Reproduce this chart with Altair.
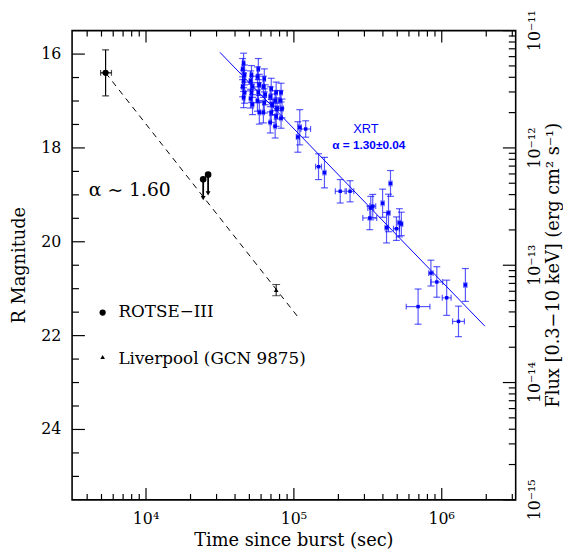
import altair as alt
import pandas as pd
import numpy as np

# ---------------- data ----------------
# XRT light curve (time [s], flux [erg cm^-2 s^-1], flux error [dex], time error [dex])
xrt_time = [45700, 45000, 46400, 45700, 45000, 46400, 45700,
            51700, 50900, 52500, 51700, 50900, 52500,
            57500, 56700, 58400, 57500, 56700, 58400,
            63100, 62200, 64100, 63100, 62200,
            70300, 69200, 71400, 70300, 69200,
            75900, 74700, 77000, 75900, 74700,
            81900, 80700, 83200, 81900,
            109600, 106300, 120200, 146800, 161000, 205800, 239900,
            331100, 341500, 326000, 398100, 436500, 450200, 423300,
            493600, 516900, 532900, 844700, 926100, 1080000, 1445000,
            691800, 1298000]
xrt_flux = [5.28e-12, 4.70e-12, 4.19e-12, 3.73e-12, 3.32e-12, 2.96e-12, 2.68e-12,
            4.19e-12, 3.73e-12, 3.32e-12, 2.96e-12, 2.63e-12, 2.34e-12,
            4.70e-12, 4.03e-12, 3.45e-12, 2.96e-12, 2.53e-12, 2.01e-12,
            3.88e-12, 3.32e-12, 2.84e-12, 2.44e-12, 2.01e-12,
            3.19e-12, 2.73e-12, 2.34e-12, 2.01e-12, 1.65e-12,
            2.96e-12, 2.53e-12, 2.17e-12, 1.86e-12, 1.53e-12,
            2.96e-12, 2.53e-12, 2.17e-12, 1.79e-12,
            1.50e-12, 1.24e-12, 1.45e-12, 6.92e-13, 6.16e-13, 4.27e-13, 4.27e-13,
            3.07e-13, 3.19e-13, 2.53e-13, 3.38e-13, 2.79e-13, 4.98e-13, 2.09e-13,
            2.05e-13, 2.30e-13, 2.25e-13, 8.57e-14, 7.20e-14, 5.28e-14, 6.79e-14,
            4.44e-14, 3.32e-14]
xrt_ferr = [0.085, 0.09, 0.085, 0.09, 0.085, 0.09, 0.085,
            0.08, 0.085, 0.09, 0.085, 0.08, 0.085,
            0.09, 0.085, 0.09, 0.085, 0.09, 0.1,
            0.085, 0.09, 0.085, 0.09, 0.09,
            0.09, 0.085, 0.09, 0.085, 0.09,
            0.09, 0.085, 0.09, 0.085, 0.1,
            0.08, 0.085, 0.08, 0.085,
            0.15, 0.13, 0.07, 0.11, 0.13, 0.10, 0.09,
            0.10, 0.10, 0.10, 0.12, 0.16, 0.11, 0.13,
            0.10, 0.12, 0.10, 0.11, 0.13, 0.15, 0.14,
            0.15, 0.13]
xrt_terr = [0.008] * 38 + [0.01, 0.01, 0.033, 0.02, 0.01, 0.033, 0.025,
                           0.02, 0.02, 0.047, 0.01, 0.01, 0.01, 0.01,
                           0.02, 0.01, 0.01, 0.015, 0.04, 0.03, 0.01,
                           0.08, 0.04]

# XRT power-law fit (alpha = 1.30) end points
fit_time = [31600, 1960000]
fit_flux = [6.53e-12, 3.02e-14]

# ROTSE-III detection
rotse_time = [5330]
rotse_mag = [16.40]
rotse_mag_err = [0.49]
rotse_time_lo = [4930]
rotse_time_hi = [5840]

# ROTSE-III upper limits
ul_time = [24360, 26300]
ul_mag = [18.67, 18.57]
ul_end = [19.07, 18.97]

# Liverpool (GCN 9875)
lt_time = [75900]
lt_mag = [21.03]
lt_mag_err = [0.12]

# optical decay (alpha ~ 1.60) end points
opt_time = [5330, 106400]
opt_mag = [16.40, 21.60]

# axis ticks and tick labels
x_major = [1e4, 1e5, 1e6]
x_major_lab = ["10⁴", "10⁵", "10⁶"]
x_minor = [4000, 5000, 6000, 7000, 8000, 9000,
           20000, 30000, 40000, 50000, 60000, 70000, 80000, 90000,
           200000, 300000, 400000, 500000, 600000, 700000, 800000, 900000,
           2000000, 3000000]
mag_major = [16, 18, 20, 22, 24]
mag_major_lab = ["16", "18", "20", "22", "24"]
mag_minor = [16.5, 17, 17.5, 18.5, 19, 19.5, 20.5, 21, 21.5, 22.5, 23, 23.5,
             24.5, 25]
flux_major = [1e-15, 1e-14, 1e-13, 1e-12, 1e-11]
flux_major_lab = ["10⁻¹⁵", "10⁻¹⁴", "10⁻¹³", "10⁻¹²", "10⁻¹¹"]
flux_minor = [m * d for d in [1e-15, 1e-14, 1e-13, 1e-12] for m in range(2, 10)]

# ---------------- frames ----------------
W, H = 450, 476
BLUE = "#0000ff"
SERIF = "DejaVu Serif"
SANS = "Liberation Sans"

xrt = pd.DataFrame({"t": xrt_time, "F": xrt_flux, "e": xrt_ferr, "te": xrt_terr})
xrt["F_lo"] = xrt["F"] * 10 ** (-xrt["e"])
xrt["F_hi"] = xrt["F"] * 10 ** (xrt["e"])
xrt["t_lo"] = xrt["t"] * 10 ** (-xrt["te"])
xrt["t_hi"] = xrt["t"] * 10 ** (xrt["te"])
fit = pd.DataFrame({"t": fit_time, "F": fit_flux})

rotse = pd.DataFrame({"t": rotse_time, "m": rotse_mag,
                      "m_lo": np.array(rotse_mag) - np.array(rotse_mag_err),
                      "m_hi": np.array(rotse_mag) + np.array(rotse_mag_err),
                      "t_lo": rotse_time_lo, "t_hi": rotse_time_hi})
ul = pd.DataFrame({"t": ul_time, "m": ul_mag, "m_end": ul_end})
lt = pd.DataFrame({"t": lt_time, "m": lt_mag,
                   "m_lo": np.array(lt_mag) - np.array(lt_mag_err),
                   "m_hi": np.array(lt_mag) + np.array(lt_mag_err)})
opt = pd.DataFrame({"t": opt_time, "m": opt_mag})

xmaj = pd.DataFrame({"t": x_major, "lab": x_major_lab})
xmin = pd.DataFrame({"t": x_minor})
mmaj = pd.DataFrame({"m": mag_major, "lab": mag_major_lab})
mmin = pd.DataFrame({"m": mag_minor})
fmaj = pd.DataFrame({"F": flux_major, "lab": flux_major_lab})
fmin = pd.DataFrame({"F": flux_minor})

xs = alt.Scale(type="log", domain=[10 ** 3.5, 10 ** 6.5], nice=False)
ym = alt.Scale(domain=[15.5, 25.5], reverse=True, nice=False, zero=False)
yf = alt.Scale(type="log", domain=[1e-15, 1e-11], nice=False)


def X(f):
    return alt.X(f"{f}:Q", scale=xs, axis=None)


def YM(f):
    return alt.Y(f"{f}:Q", scale=ym, axis=None)


def YF(f):
    return alt.Y(f"{f}:Q", scale=yf, axis=None)


def label(txt, x, y, size=16, font=SERIF, color="black", align="center", angle=0,
          weight="normal"):
    kw = dict(font=font, fontSize=size, align=align, baseline="middle", color=color,
              fontWeight=weight)
    if angle:
        kw["angle"] = angle
    return alt.Chart(pd.DataFrame({"k": [txt]})).mark_text(**kw).encode(
        x=alt.value(x), y=alt.value(y), text="k:N")


# ---------------- magnitude group ----------------
opt_line = alt.Chart(opt).mark_line(color="black", strokeWidth=1, strokeDash=[6, 5]).encode(
    x=X("t"), y=YM("m"))

rot_v = alt.Chart(rotse).mark_rule(color="black", strokeWidth=1.2).encode(
    x=X("t"), y=YM("m_lo"), y2="m_hi")
rot_h = alt.Chart(rotse).mark_rule(color="black", strokeWidth=1.2).encode(
    x=X("t_lo"), x2="t_hi", y=YM("m"))
rot_c1 = alt.Chart(rotse).mark_tick(orient="horizontal", size=7, thickness=1.2, color="black").encode(
    x=X("t"), y=YM("m_lo"))
rot_c2 = alt.Chart(rotse).mark_tick(orient="horizontal", size=7, thickness=1.2, color="black").encode(
    x=X("t"), y=YM("m_hi"))
rot_c3 = alt.Chart(rotse).mark_tick(orient="vertical", size=6, thickness=1.2, color="black").encode(
    x=X("t_lo"), y=YM("m"))
rot_c4 = alt.Chart(rotse).mark_tick(orient="vertical", size=6, thickness=1.2, color="black").encode(
    x=X("t_hi"), y=YM("m"))
rot_p = alt.Chart(rotse).mark_circle(color="black", size=40, opacity=1).encode(
    x=X("t"), y=YM("m"))

ul_stem = alt.Chart(ul).mark_rule(color="black", strokeWidth=1.8).encode(
    x=X("t"), y=YM("m"), y2="m_end")
ul_head = alt.Chart(ul).mark_point(shape="triangle-down", filled=True, color="black",
                                   size=24, opacity=1).encode(x=X("t"), y=YM("m_end"))
ul_p = alt.Chart(ul).mark_circle(color="black", size=45, opacity=1).encode(
    x=X("t"), y=YM("m"))

lt_v = alt.Chart(lt).mark_rule(color="black", strokeWidth=1).encode(
    x=X("t"), y=YM("m_lo"), y2="m_hi")
lt_c1 = alt.Chart(lt).mark_tick(orient="horizontal", size=8, thickness=1, color="black").encode(
    x=X("t"), y=YM("m_lo"))
lt_c2 = alt.Chart(lt).mark_tick(orient="horizontal", size=8, thickness=1, color="black").encode(
    x=X("t"), y=YM("m_hi"))
lt_p = alt.Chart(lt).mark_point(shape="triangle-up", filled=True, color="black",
                                size=22, opacity=1).encode(x=X("t"), y=YM("m"))

# ticks (inward)
tk = dict(color="black", strokeWidth=1.2)
xt1 = alt.Chart(xmaj).mark_rule(**tk).encode(x=X("t"), y=alt.value(H), y2=alt.value(H - 12))
xt2 = alt.Chart(xmaj).mark_rule(**tk).encode(x=X("t"), y=alt.value(0), y2=alt.value(12))
xt3 = alt.Chart(xmin).mark_rule(**tk).encode(x=X("t"), y=alt.value(H), y2=alt.value(H - 6))
xt4 = alt.Chart(xmin).mark_rule(**tk).encode(x=X("t"), y=alt.value(0), y2=alt.value(6))
mt1 = alt.Chart(mmaj).mark_rule(**tk).encode(y=YM("m"), x=alt.value(0), x2=alt.value(13))
mt2 = alt.Chart(mmin).mark_rule(**tk).encode(y=YM("m"), x=alt.value(0), x2=alt.value(7))

# tick labels (drawn through the scales)
xl = alt.Chart(xmaj).mark_text(font=SERIF, fontSize=16, align="center", baseline="middle",
                               color="black").encode(x=X("t"), y=alt.value(H + 20), text="lab:N")
ml = alt.Chart(mmaj).mark_text(font=SERIF, fontSize=16, align="right", baseline="middle",
                               color="black").encode(y=YM("m"), x=alt.value(-11), text="lab:N")

x_title = label("Time since burst (sec)", W / 2, H + 42, size=18)
y_title = label("R Magnitude", -53, H / 2, angle=270, size=18)

# legend & annotation
leg1 = alt.Chart(pd.DataFrame({"k": [0]})).mark_circle(color="black", size=40, opacity=1).encode(
    x=alt.value(31), y=alt.value(286))
leg2 = alt.Chart(pd.DataFrame({"k": [0]})).mark_point(shape="triangle-up", filled=True,
                                                      color="black", size=22, opacity=1).encode(
    x=alt.value(31), y=alt.value(331))
leg1t = label("ROTSE−III", 47, 286, size=17, align="left")
leg2t = label("Liverpool (GCN 9875)", 47, 333, size=17, align="left")
alpha_t = label("α ~ 1.60", 17, 162, size=19, align="left")

mag_group = alt.layer(opt_line, xt1, xt2, xt3, xt4, mt1, mt2, xl, ml, x_title, y_title,
                      rot_v, rot_h, rot_c1, rot_c2, rot_c3, rot_c4, rot_p,
                      ul_stem, ul_head, ul_p, lt_v, lt_c1, lt_c2, lt_p,
                      leg1, leg2, leg1t, leg2t, alpha_t)

# ---------------- flux group ----------------
fit_line = alt.Chart(fit).mark_line(color=BLUE, strokeWidth=1).encode(x=X("t"), y=YF("F"))
eb = dict(color=BLUE, strokeWidth=1.2, opacity=0.65)
x_v = alt.Chart(xrt).mark_rule(**eb).encode(x=X("t"), y=YF("F_lo"), y2="F_hi")
x_h = alt.Chart(xrt).mark_rule(**eb).encode(x=X("t_lo"), x2="t_hi", y=YF("F"))
x_c1 = alt.Chart(xrt).mark_tick(orient="horizontal", size=7, thickness=1.2, color=BLUE,
                                opacity=0.65).encode(x=X("t"), y=YF("F_lo"))
x_c2 = alt.Chart(xrt).mark_tick(orient="horizontal", size=7, thickness=1.2, color=BLUE,
                                opacity=0.65).encode(x=X("t"), y=YF("F_hi"))
x_c3 = alt.Chart(xrt).mark_tick(orient="vertical", size=6, thickness=1.2, color=BLUE,
                                opacity=0.65).encode(x=X("t_lo"), y=YF("F"))
x_c4 = alt.Chart(xrt).mark_tick(orient="vertical", size=6, thickness=1.2, color=BLUE,
                                opacity=0.65).encode(x=X("t_hi"), y=YF("F"))
x_p = alt.Chart(xrt).mark_square(color=BLUE, size=12, opacity=1).encode(x=X("t"), y=YF("F"))

ft1 = alt.Chart(fmaj).mark_rule(**tk).encode(y=YF("F"), x=alt.value(W), x2=alt.value(W - 13))
ft2 = alt.Chart(fmin).mark_rule(**tk).encode(y=YF("F"), x=alt.value(W), x2=alt.value(W - 7))
fl = alt.Chart(fmaj).mark_text(font=SERIF, fontSize=16, align="center", baseline="middle",
                               angle=270, color="black").encode(
    y=YF("F"), x=alt.value(W + 20), text="lab:N")
r_title = label("Flux [0.3−10 keV] (erg cm² s⁻¹)", W + 39, H / 2, angle=270, size=18)

xrt_lab = label("XRT", 298, 100, size=13, font=SANS, color=BLUE)
xrt_alpha = label("α  =  1.30±0.04", 301, 116, size=12, font=SANS, color=BLUE, weight="bold")

flux_group = alt.layer(fit_line, x_v, x_h, x_c1, x_c2, x_c3, x_c4, x_p, ft1, ft2, fl,
                       r_title, xrt_lab, xrt_alpha)

chart = alt.layer(mag_group, flux_group).resolve_scale(y="independent").properties(
    width=W, height=H,
    autosize=alt.AutoSizeParams(type="none"),
    padding={"left": 65, "top": 19, "right": 48, "bottom": 52},
    background="white",
).configure_view(stroke="black", strokeWidth=1.6)

chart.save("out.html", embed_options={"renderer": "svg", "actions": False})
